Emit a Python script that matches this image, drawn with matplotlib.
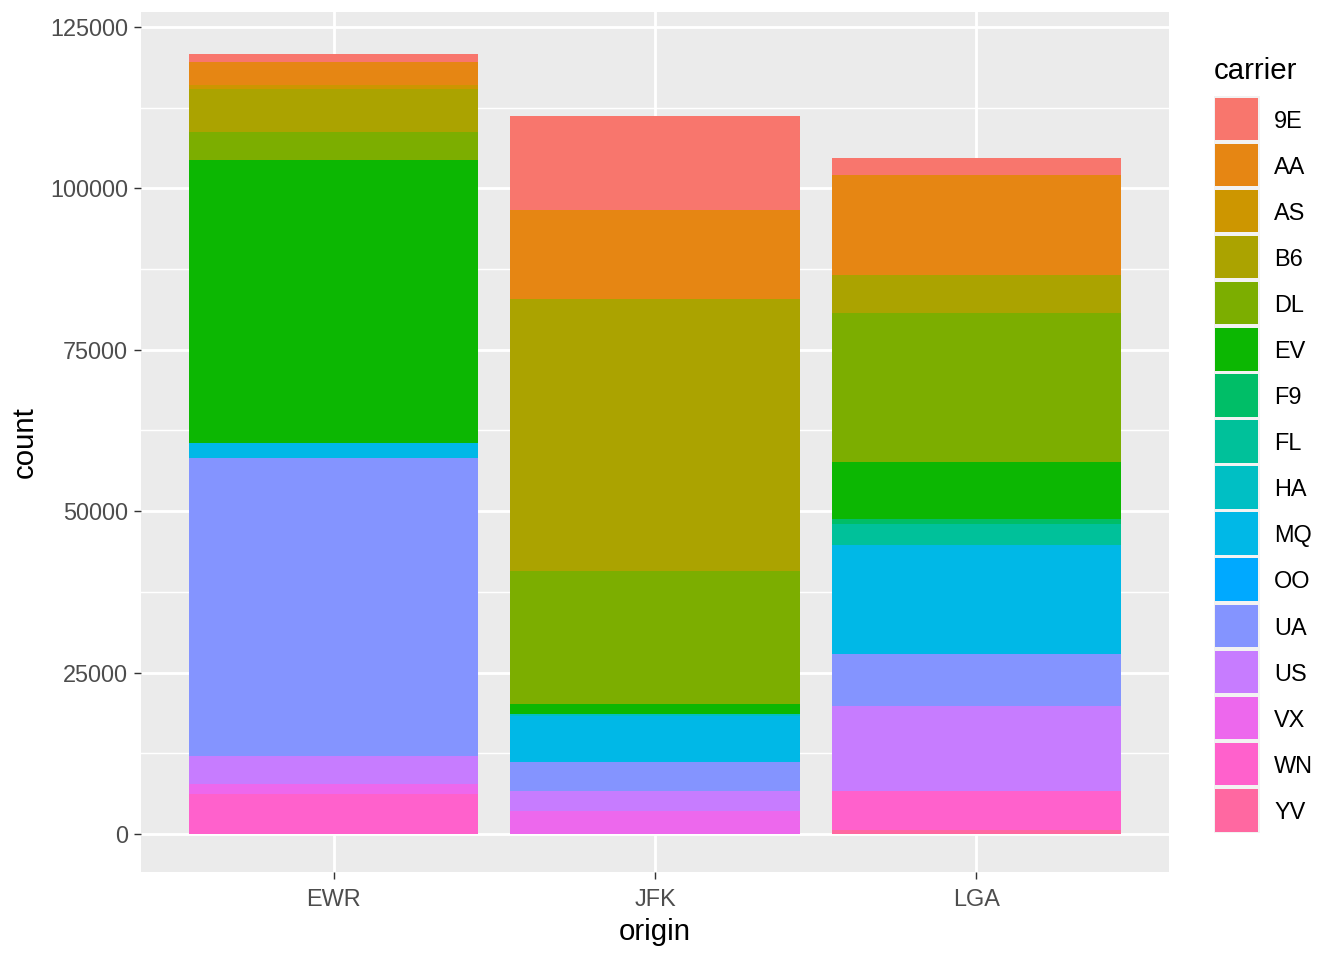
import numpy as np
import matplotlib
matplotlib.use("Agg")
import matplotlib.pyplot as plt
from matplotlib.patches import Rectangle

plt.rcParams['font.family'] = ['Liberation Sans', 'DejaVu Sans']

# flights counted per origin airport and carrier
carriers = ['9E', 'AA', 'AS', 'B6', 'DL', 'EV', 'F9', 'FL', 'HA', 'MQ', 'OO', 'UA', 'US', 'VX', 'WN', 'YV']
origins = ['EWR', 'JFK', 'LGA']
ewr = [1268, 3487, 714, 6557, 4342, 43939, 0, 0, 0, 2276, 6, 46087, 4405, 1566, 6188, 0]
jfk = [14651, 13783, 0, 42076, 20701, 1408, 0, 0, 342, 7193, 0, 4534, 2995, 3596, 0, 0]
lga = [2541, 15459, 0, 6002, 23067, 8826, 685, 3260, 0, 16928, 26, 8044, 13136, 0, 6087, 601]
colors = ['#F8766D', '#E68613', '#CD9600', '#ABA300', '#7CAE00', '#0CB702', '#00BE67', '#00C19A',
          '#00BFC4', '#00B8E7', '#00A9FF', '#8494FF', '#C77CFF', '#ED68ED', '#FF61CC', '#FF68A1']

counts = np.array([ewr, jfk, lga])  # origin x carrier

fig = plt.figure(figsize=(7, 5), dpi=192)
ax = fig.add_axes([141/1344, 1-872/960, (1169-141)/1344, (872-12)/960])
ax.set_facecolor('#EBEBEB')

x = np.arange(1, len(origins)+1)
# ggplot stacks first level on top -> draw from last carrier upward
bottom = np.zeros(len(origins))
for j in range(len(carriers)-1, -1, -1):
    ax.bar(x, counts[:, j], bottom=bottom, width=0.9, color=colors[j], linewidth=0, zorder=3)
    bottom += counts[:, j]

ax.set_ylim(-5886, 127323)
ax.set_xlim(0.4, 3.6)

yt = [0, 25000, 50000, 75000, 100000, 125000]
ax.set_yticks(yt)
ax.set_yticklabels([str(v) for v in yt])
ax.set_yticks([12500, 37500, 62500, 87500, 112500], minor=True)
ax.set_xticks(x)
ax.set_xticklabels(origins)

ax.grid(which='major', color='white', linewidth=1.07, zorder=1)
ax.grid(which='minor', axis='y', color='white', linewidth=0.53, zorder=1)
ax.tick_params(which='major', length=2.75, width=0.53, color='#333333', labelsize=8.8, labelcolor='#4D4D4D')
ax.tick_params(axis='x', which='major', pad=3.2)
ax.tick_params(axis='y', which='major', pad=2.2)
ax.tick_params(which='minor', length=0)
for s in ax.spines.values():
    s.set_visible(False)
ax.set_axisbelow(True)

ax.set_xlabel('origin', fontsize=11, labelpad=2.5)
ax.set_ylabel('count', fontsize=11, labelpad=4)

# legend drawn by hand, ggplot style
lax = fig.add_axes([1200/1344, 0, 144/1344, 1])
lax.set_xlim(1200, 1344)
lax.set_ylim(960, 0)
lax.axis('off')
lax.text(1214, 71, 'carrier', fontsize=11, va='center', ha='left')
top, bot = 95.5, 833
step = (bot - top) / len(carriers)
lax.add_patch(Rectangle((1214, top), 46, bot - top, facecolor='#F2F2F2', edgecolor='none'))
for i, (c, col) in enumerate(zip(carriers, colors)):
    y0 = top + i*step
    lax.add_patch(Rectangle((1215, y0+2), 43, step-3.5, facecolor=col, edgecolor='none'))
    lax.text(1274, y0 + step/2 + 2.5, c, fontsize=8.8, va='center', ha='left')

fig.savefig('out.png', dpi=192)
